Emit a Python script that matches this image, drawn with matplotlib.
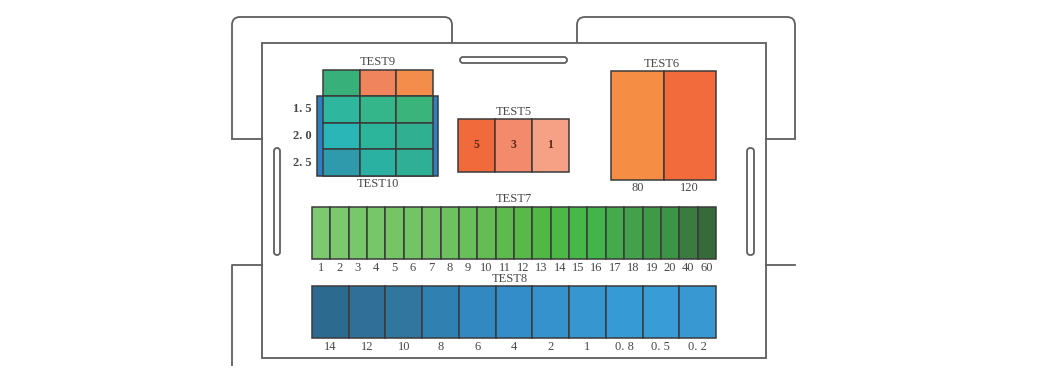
import matplotlib.pyplot as plt
import numpy as np
from matplotlib.patches import FancyBboxPatch, Rectangle
from matplotlib.path import Path
from matplotlib.patches import PathPatch

plt.rcParams["font.family"] = ["Liberation Serif", "DejaVu Serif"]

# ---- data ----
test5_labels = ["5", "3", "1"]
test5_colors = ["#f06a3c", "#f38a6c", "#f6a086"]

test6_labels = ["80", "120"]
test6_colors = ["#f58d45", "#f26b3c"]

test7_labels = ["1", "2", "3", "4", "5", "6", "7", "8", "9", "10", "11",
                "12", "13", "14", "15", "16", "17", "18", "19", "20", "40", "60"]
test7_colors = ["#7dc96f", "#7bc86d", "#79c76b", "#77c669", "#75c567",
                "#73c465", "#71c363", "#6dc15f", "#69bf59", "#63bd53",
                "#5dbb4d", "#58b948", "#52b845", "#4cb845", "#45b848",
                "#41b44a", "#44aa4c", "#42a14a", "#3f9a48", "#3c9446",
                "#3a7b40", "#366b39"]

test8_labels = ["14", "12", "10", "8", "6", "4", "2", "1", "0. 8", "0. 5", "0. 2"]
test8_colors = ["#2d6a90", "#2f6f98", "#31769f", "#3180b2", "#3288c0",
                "#338dc8", "#3592cc", "#3596d0", "#369ad4", "#389dd7", "#3898d2"]

test9_colors = ["#37b07a", "#f0845c", "#f48d4b"]

test10_rows = ["1. 5", "2. 0", "2. 5"]
test10_colors = [["#2eb79e", "#34b58a", "#3ab47a"],
                 ["#2ab6b6", "#2db59c", "#30b090"],
                 ["#2e9aab", "#2bb1a2", "#2fb096"]]

LINE = "#5e5e5e"
EDGE = "#3a3a3a"
TXT = "#474747"
FS = 9


def strip(ax, x0, x1, y0, y1, colors, labels=None, label_y=None, inside=False):
    n = len(colors)
    w = (x1 - x0) / n
    centers = x0 + w * (np.arange(n) + 0.5)
    ax.bar(centers, y1 - y0, bottom=y0, width=w, color=colors,
           edgecolor=EDGE, linewidth=1.1, zorder=3)
    if labels is not None:
        for cx, lab in zip(centers, labels):
            if inside:
                ax.text(cx, (y0 + y1) / 2, lab, ha="center", va="center",
                        fontsize=FS - 0.5, color="#5a2a1a", fontweight="bold", zorder=4)
            else:
                ax.text(cx, label_y, lab, ha="center", va="center",
                        fontsize=FS, color=TXT, zorder=4)


def tab(ax, pts, r=8):
    # polyline with rounded corners at the interior points
    verts, codes = [pts[0]], [Path.MOVETO]
    for i in range(1, len(pts) - 1):
        p0, p1, p2 = np.array(pts[i - 1]), np.array(pts[i]), np.array(pts[i + 1])
        a = p1 + (p0 - p1) / np.linalg.norm(p0 - p1) * r
        b = p1 + (p2 - p1) / np.linalg.norm(p2 - p1) * r
        verts += [tuple(a), tuple(p1), tuple(b)]
        codes += [Path.LINETO, Path.CURVE3, Path.CURVE3]
    verts.append(pts[-1])
    codes.append(Path.LINETO)
    ax.add_patch(PathPatch(Path(verts, codes), fill=False, edgecolor=LINE, lw=1.3))


def slot(ax, x0, x1, y0, y1):
    r = min(x1 - x0, y1 - y0) / 2
    ax.add_patch(FancyBboxPatch((x0 + r, y0 + r), x1 - x0 - 2 * r, y1 - y0 - 2 * r,
                                boxstyle=f"round,pad={r}", fill=False,
                                edgecolor=LINE, lw=1.3))


fig = plt.figure(figsize=(10.45, 3.87), dpi=100)
ax = fig.add_axes([0, 0, 1, 1])
ax.set_xlim(0, 1045)
ax.set_ylim(387, 0)
ax.axis("off")

# back card outline
tab(ax, [(232, 139), (232, 17), (452, 17), (452, 43)])
tab(ax, [(577, 43), (577, 17), (795, 17), (795, 139)])
ax.plot([232, 262], [139, 139], color=LINE, lw=1.3)
ax.plot([766, 795], [139, 139], color=LINE, lw=1.3)
ax.plot([262, 232, 232], [265, 265, 365], color=LINE, lw=1.3)
ax.plot([766, 795], [265, 265], color=LINE, lw=1.3)

# front card
ax.add_patch(Rectangle((262, 43), 504, 315, fill=False, edgecolor=LINE, lw=1.3, zorder=2))
slot(ax, 460, 567, 57, 63)
slot(ax, 274, 280, 148, 255)
slot(ax, 747, 754, 148, 255)

# TEST9 / TEST10
ax.text(378, 62, "TEST9", ha="center", va="center", fontsize=FS, color=TXT)
strip(ax, 323, 433, 70, 96, test9_colors)
ax.add_patch(Rectangle((317, 96), 121, 80, facecolor="#2f7fc2", edgecolor=EDGE,
                       lw=1.1, zorder=2))
row_h = 80 / len(test10_rows)
for i, (lab, cols) in enumerate(zip(test10_rows, test10_colors)):
    y0 = 96 + i * row_h
    strip(ax, 323, 433, y0, y0 + row_h, cols)
    ax.text(312, y0 + row_h / 2, lab, ha="right", va="center", fontsize=FS,
            color=TXT, fontweight="bold")
ax.text(378, 184, "TEST10", ha="center", va="center", fontsize=FS, color=TXT)

# TEST5
ax.text(514, 112, "TEST5", ha="center", va="center", fontsize=FS, color=TXT)
strip(ax, 458, 569, 119, 172, test5_colors, test5_labels, inside=True)

# TEST6
ax.text(662, 64, "TEST6", ha="center", va="center", fontsize=FS, color=TXT)
strip(ax, 611, 716, 71, 180, test6_colors, test6_labels, label_y=188)

# TEST7
ax.text(514, 199, "TEST7", ha="center", va="center", fontsize=FS, color=TXT)
strip(ax, 312, 716, 207, 259, test7_colors, test7_labels, label_y=268)

# TEST8
ax.text(510, 279, "TEST8", ha="center", va="center", fontsize=FS, color=TXT)
strip(ax, 312, 716, 286, 338, test8_colors, test8_labels, label_y=347)

fig.savefig("out.png", dpi=100)
